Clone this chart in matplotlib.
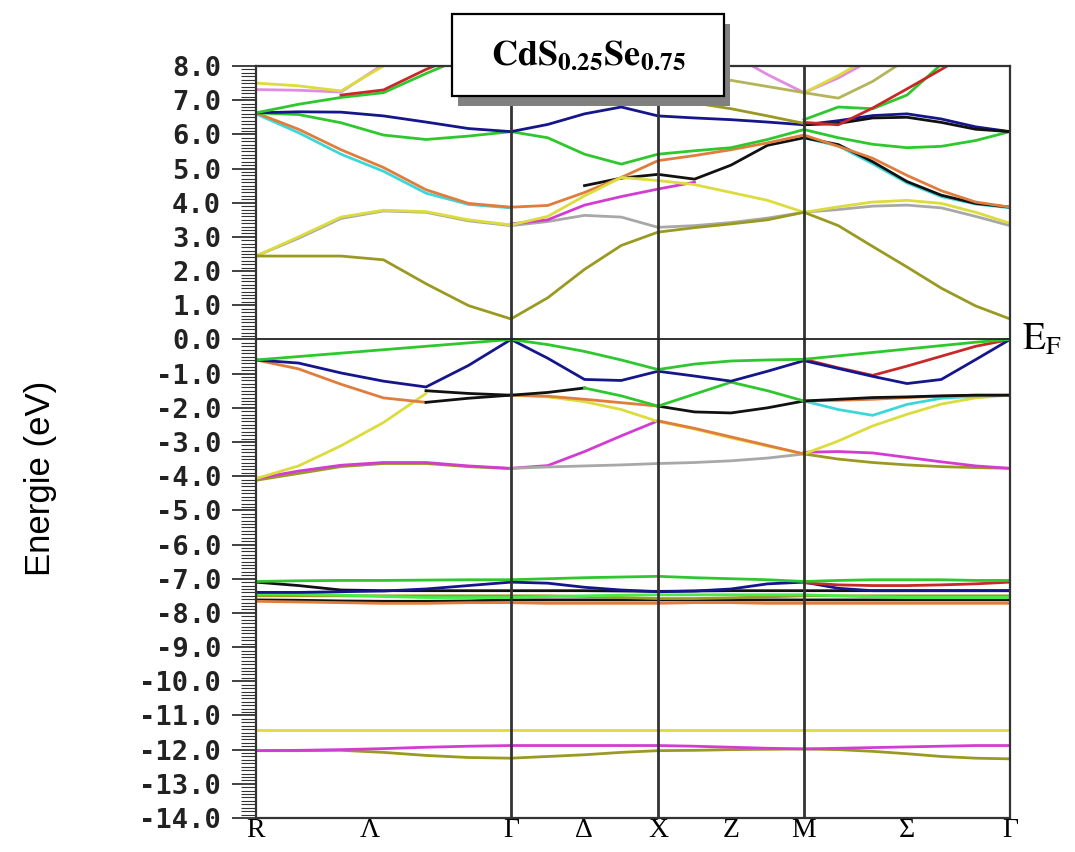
import numpy as np
import matplotlib
matplotlib.use("Agg")
import matplotlib.pyplot as plt
import matplotlib.transforms as mtransforms
from matplotlib.patches import Rectangle
from matplotlib.ticker import MultipleLocator, FuncFormatter

nan = np.nan

# k-path: high symmetry points (distance along path) and sampling per segment
sym_pos = [0, 255, 402, 548, 754]
seg_npts = [7, 5, 5, 7]
tick_pos = [0, 114, 255, 328, 402, 475, 548, 651, 754]
tick_lab = ["R", "Λ", "Γ", "Δ", "X", "Z", "M", "Σ", "Γ"]

# energies (eV) read at the 21 k-points  R ... Γ ... X ... M ... Γ
# conduction bands
cb_olive = [2.44, 2.44, 2.44, 2.33, 1.63, 0.99, 0.60, 1.22, 2.05, 2.75, 3.14,
            3.27, 3.38, 3.50, 3.72, 3.33, 2.72, 2.12, 1.50, 0.98, 0.60]
cb_gray = [2.44, 2.96, 3.54, 3.76, 3.72, 3.47, 3.33, 3.45, 3.63, 3.58, 3.28,
           3.33, 3.42, 3.55, 3.72, 3.80, 3.90, 3.93, 3.85, 3.60, 3.33]
cb_yellow = [2.44, 3.00, 3.58, 3.78, 3.74, 3.50, 3.35, 3.60, 4.20, 4.74, 4.65,
             4.53, 4.30, 4.07, 3.72, 3.88, 4.02, 4.07, 3.98, 3.72, 3.40]
cb_magenta = [nan, nan, nan, nan, nan, nan, 3.38, 3.50, 3.93, 4.18, 4.40,
              4.60, nan, nan, nan, nan, nan, nan, nan, nan, nan]
cb_orange = [6.63, 6.15, 5.55, 5.03, 4.38, 3.98, 3.87, 3.92, 4.30, 4.74, 5.23,
             5.38, 5.55, 5.75, 5.98, 5.65, 5.30, 4.80, 4.35, 4.02, 3.87]
cb_cyan = [6.60, 6.05, 5.42, 4.92, 4.28, 3.95, 3.85, nan, nan, nan, nan,
           nan, nan, nan, 5.90, 5.66, 5.14, 4.58, 4.18, 3.96, 3.85]
cb_black = [nan, nan, nan, nan, nan, nan, nan, nan, 4.50, 4.72, 4.83,
            4.69, 5.10, 5.68, 5.90, 5.70, 5.20, 4.62, 4.22, 3.98, 3.87]
cb_green = [6.63, 6.58, 6.34, 5.98, 5.85, 5.95, 6.08, 5.90, 5.42, 5.13, 5.42,
            5.52, 5.61, 5.85, 6.14, 5.90, 5.71, 5.61, 5.65, 5.82, 6.08]
cb_blue = [6.63, 6.66, 6.65, 6.54, 6.36, 6.17, 6.08, 6.29, 6.60, 6.80, 6.54,
           6.48, 6.43, 6.36, 6.28, 6.40, 6.55, 6.60, 6.45, 6.22, 6.08]
cb_dark = [nan, nan, nan, nan, nan, nan, nan, nan, nan, nan, nan,
           nan, nan, nan, 6.28, 6.32, 6.48, 6.50, 6.35, 6.15, 6.08]
cb_green_up = [6.63, 6.88, 7.08, 7.22, 7.78, 8.30, nan, nan, nan, nan, nan,
               nan, nan, nan, 6.43, 6.80, 6.75, 7.15, 8.05, nan, nan]
cb_red_up = [nan, nan, 7.15, 7.30, 7.90, 8.40, nan, nan, nan, nan, nan,
             nan, nan, nan, 6.35, 6.28, 6.77, 7.33, 7.90, 8.50, nan]
cb_magenta_up = [7.31, 7.29, 7.24, 8.05, 8.70, nan, nan, nan, nan, nan, nan,
                 nan, 8.35, 7.75, 7.22, 7.65, 8.20, nan, nan, nan, nan]
cb_yellow_up = [7.50, 7.42, 7.27, 8.00, 8.60, nan, nan, nan, nan, nan, nan,
                nan, nan, nan, 7.22, 7.72, 8.30, nan, nan, nan, nan]
cb_olive_up = [nan, nan, nan, nan, nan, nan, nan, nan, nan, nan, 7.10,
               6.92, 6.75, 6.54, 6.32, nan, nan, nan, nan, nan, nan]
cb_khaki_up = [nan, nan, nan, nan, nan, nan, nan, nan, nan, nan, 7.90,
               7.75, 7.58, 7.40, 7.22, 7.06, 7.55, 8.20, nan, nan, nan]

# valence bands
vb_green = [-0.60, -0.50, -0.40, -0.30, -0.20, -0.10, 0.00, -0.15, -0.35, -0.60, -0.88,
            -0.72, -0.63, -0.60, -0.58, -0.48, -0.38, -0.28, -0.18, -0.08, 0.00]
vb_blue = [-0.60, -0.69, -0.98, -1.22, -1.39, -0.76, 0.00, -0.55, -1.17, -1.20, -0.93,
           -1.07, -1.22, -0.93, -0.62, -0.85, -1.08, -1.29, -1.17, -0.59, 0.00]
vb_red = [nan, nan, nan, nan, nan, nan, nan, nan, nan, nan, nan,
          nan, nan, nan, -0.58, -0.83, -1.05, -0.78, -0.49, -0.20, 0.00]
vb_orange = [-0.60, -0.86, -1.31, -1.71, -1.84, nan, -1.63, -1.66, -1.75, -1.85, -1.95,
             nan, nan, nan, -1.80, -1.78, -1.75, -1.70, -1.66, -1.63, -1.63]
vb_orange2 = [nan, nan, nan, nan, nan, nan, nan, nan, nan, nan, -2.38,
              -2.60, -2.85, -3.10, -3.35, nan, nan, nan, nan, nan, nan]
vb_black = [nan, nan, nan, nan, -1.84, -1.72, -1.63, -1.55, -1.42, nan, -1.95,
            -2.12, -2.15, -2.00, -1.80, -1.75, -1.70, -1.68, -1.65, -1.63, -1.63]
vb_black2 = [nan, nan, nan, nan, -1.50, -1.58, -1.63, nan, nan, nan, nan,
             nan, nan, nan, nan, nan, nan, nan, nan, nan, nan]
vb_green2 = [nan, nan, nan, nan, nan, nan, nan, nan, -1.42, -1.65, -1.95,
             -1.60, -1.25, -1.50, -1.80, nan, nan, nan, nan, nan, nan]
vb_cyan = [nan, nan, nan, nan, nan, nan, nan, nan, nan, nan, nan,
           nan, nan, nan, -1.80, -2.05, -2.22, -1.90, -1.72, -1.66, -1.63]
vb_yellow = [-4.07, -3.70, -3.11, -2.43, -1.58, nan, -1.63, -1.68, -1.82, -2.05, -2.40,
             -2.62, -2.88, -3.12, -3.35, -2.97, -2.53, -2.19, -1.89, -1.71, -1.63]
vb_magenta = [-4.07, -3.85, -3.68, -3.60, -3.60, -3.70, -3.77, -3.69, -3.28, -2.82, -2.38,
              nan, nan, nan, -3.30, -3.28, -3.32, -3.45, -3.58, -3.70, -3.77]
vb_olive = [-4.12, -3.92, -3.72, -3.63, -3.63, -3.72, -3.78, nan, nan, nan, nan,
            nan, nan, nan, -3.35, -3.50, -3.60, -3.67, -3.72, -3.75, -3.77]
vb_gray = [nan, nan, nan, nan, nan, nan, -3.77, -3.73, -3.70, -3.67, -3.63,
           -3.60, -3.55, -3.47, -3.35, nan, nan, nan, nan, nan, nan]

# Cd-d like flat bands
d_green = [-7.08, -7.06, -7.05, -7.05, -7.04, -7.03, -7.03, -7.00, -6.97, -6.95, -6.93,
           -6.97, -7.00, -7.03, -7.08, -7.05, -7.03, -7.03, -7.03, -7.05, -7.05]
d_red = [nan, nan, nan, nan, nan, nan, nan, nan, nan, nan, nan,
         nan, nan, nan, -7.12, -7.18, -7.20, -7.20, -7.18, -7.15, -7.10]
d_black = [-7.10, -7.20, -7.33, -7.35, -7.35, -7.35, -7.35, -7.35, -7.35, -7.36, -7.37,
           -7.36, -7.35, -7.35, -7.35, -7.35, -7.35, -7.35, -7.35, -7.35, -7.35]
d_blue = [-7.40, -7.40, -7.38, -7.36, -7.30, -7.20, -7.10, -7.13, -7.25, -7.33, -7.38,
          -7.36, -7.30, -7.15, -7.10, -7.28, -7.35, -7.35, -7.35, -7.35, -7.35]
d_lime = [-7.45, -7.45, -7.48, -7.52, -7.55, -7.55, -7.55, -7.52, -7.50, -7.48, -7.47,
          -7.47, -7.47, -7.47, -7.47, -7.50, -7.53, -7.55, -7.55, -7.55, -7.55]
d_olive = [-7.50, -7.50, -7.50, -7.50, -7.50, -7.50, -7.50, -7.50, -7.52, -7.55, -7.58,
           -7.58, -7.56, -7.53, -7.50, -7.50, -7.50, -7.50, -7.50, -7.50, -7.50]
d_dark = [-7.62, -7.63, -7.65, -7.66, -7.66, -7.65, -7.62, -7.62, -7.62, -7.62, -7.62,
          -7.62, -7.62, -7.62, -7.62, -7.62, -7.62, -7.62, -7.62, -7.62, -7.62]
d_orange = [-7.66, -7.68, -7.70, -7.72, -7.72, -7.70, -7.70, -7.72, -7.72, -7.72, -7.72,
            -7.70, -7.70, -7.72, -7.72, -7.72, -7.72, -7.72, -7.72, -7.72, -7.72]

# low lying s-like bands
s_yellow = [-11.42, -11.42, -11.42, -11.42, -11.42, -11.42, -11.42, -11.42, -11.42, -11.42, -11.42,
            -11.42, -11.42, -11.42, -11.42, -11.42, -11.42, -11.42, -11.42, -11.42, -11.42]
s_magenta = [-12.03, -12.02, -12.00, -11.97, -11.93, -11.90, -11.88, -11.88, -11.88, -11.88, -11.88,
             -11.90, -11.93, -11.96, -11.98, -11.96, -11.94, -11.92, -11.90, -11.88, -11.88]
s_olive = [-12.03, -12.03, -12.02, -12.08, -12.17, -12.23, -12.25, -12.20, -12.15, -12.08, -12.03,
           -12.02, -12.00, -11.99, -11.98, -12.00, -12.05, -12.12, -12.20, -12.25, -12.27]

OLIVE, YELLOW, GRAY = "#9a9a22", "#dcdc3c", "#a8a8a8"
ORANGE, CYAN, MAGENTA = "#e07c3c", "#3cd8d8", "#d23cd2"
BLACK, GREEN, LIME = "#111111", "#2ec82e", "#44ee44"
BLUE, RED, PINK, KHAKI = "#16168c", "#c82828", "#e08ce0", "#b4b45a"

bands = [
    (cb_gray, GRAY), (cb_cyan, CYAN), (cb_magenta, MAGENTA), (cb_black, BLACK),
    (cb_orange, ORANGE), (cb_yellow, YELLOW), (cb_olive, OLIVE), (cb_green, GREEN),
    (cb_blue, BLUE), (cb_dark, BLACK), (cb_green_up, GREEN), (cb_red_up, RED),
    (cb_magenta_up, PINK), (cb_yellow_up, YELLOW), (cb_olive_up, OLIVE), (cb_khaki_up, KHAKI),
    (vb_olive, OLIVE), (vb_magenta, MAGENTA), (vb_gray, GRAY), (vb_yellow, YELLOW),
    (vb_black2, BLACK), (vb_orange2, ORANGE), (vb_cyan, CYAN), (vb_orange, ORANGE),
    (vb_black, BLACK), (vb_green2, GREEN), (vb_red, RED), (vb_blue, BLUE), (vb_green, GREEN),
    (d_dark, BLACK), (d_orange, ORANGE), (d_olive, OLIVE), (d_lime, LIME), (d_black, BLACK),
    (d_blue, BLUE), (d_red, RED), (d_green, GREEN),
    (s_olive, OLIVE), (s_magenta, MAGENTA), (s_yellow, YELLOW),
]

k = [sym_pos[0]]
for i, n in enumerate(seg_npts):
    k += list(np.linspace(sym_pos[i], sym_pos[i + 1], n)[1:])
k = np.array(k)

plt.rcParams["mathtext.fontset"] = "stix"

fig = plt.figure(figsize=(10.75, 8.52), dpi=100)
ax = fig.add_axes([256 / 1075, 1 - 818 / 852, 754 / 1075, 752 / 852])

for vals, col in bands:
    ax.plot(k, vals, color=col, lw=2.0, zorder=2)

for xp in sym_pos[1:-1]:
    ax.axvline(xp, color="#333333", lw=2.0, zorder=3)
ax.axhline(0.0, color="#222222", lw=1.3, zorder=3)

ax.set_xlim(sym_pos[0], sym_pos[-1])
ax.set_ylim(-14, 8)
for sp in ax.spines.values():
    sp.set_color("#333333")
    sp.set_linewidth(1.6)

ax.set_xticks(tick_pos)
ax.set_xticklabels(tick_lab, family="Liberation Serif", fontsize=20)
ax.tick_params(axis="x", length=0, pad=0)

ax.yaxis.set_major_locator(MultipleLocator(1.0))
ax.yaxis.set_minor_locator(MultipleLocator(0.1))
ax.yaxis.set_major_formatter(FuncFormatter(lambda v, p: f"{v:.1f}"))
ax.tick_params(axis="y", which="major", direction="out", length=17, width=1.3,
               color="#333333", pad=8)
ax.tick_params(axis="y", which="minor", direction="out", length=11, width=0.8,
               color="#333333")
for lab in ax.get_yticklabels():
    lab.set_family("DejaVu Sans Mono")
    lab.set_fontweight("bold")
    lab.set_fontsize(19.5)
    lab.set_color("#222222")

trans = mtransforms.blended_transform_factory(ax.transAxes, ax.transData)
ax.text(1.016, -0.30, r"$\mathrm{E}_{\mathrm{F}}$", transform=trans, fontsize=27,
        ha="left", va="baseline", clip_on=False)

fig.text(0.038, 0.439, "Energie (eV)", rotation=90, fontsize=25,
         family="Liberation Sans", ha="center", va="center")

# title box with drop shadow
bx, by, bw, bh = 452 / 1075, 1 - 96 / 852, 272 / 1075, 82 / 852
fig.add_artist(Rectangle((bx + 6 / 1075, by - 10 / 852), bw, bh, transform=fig.transFigure,
                         facecolor="#808080", edgecolor="none", zorder=10))
fig.add_artist(Rectangle((bx, by), bw, bh, transform=fig.transFigure,
                         facecolor="white", edgecolor="black", lw=1.6, zorder=11))
fig.text(bx + bw / 2, by + bh / 2, r"$\mathbf{CdS_{0.25}Se_{0.75}}$", fontsize=26,
         ha="center", va="center", zorder=12)

fig.savefig("out.png", dpi=100)
